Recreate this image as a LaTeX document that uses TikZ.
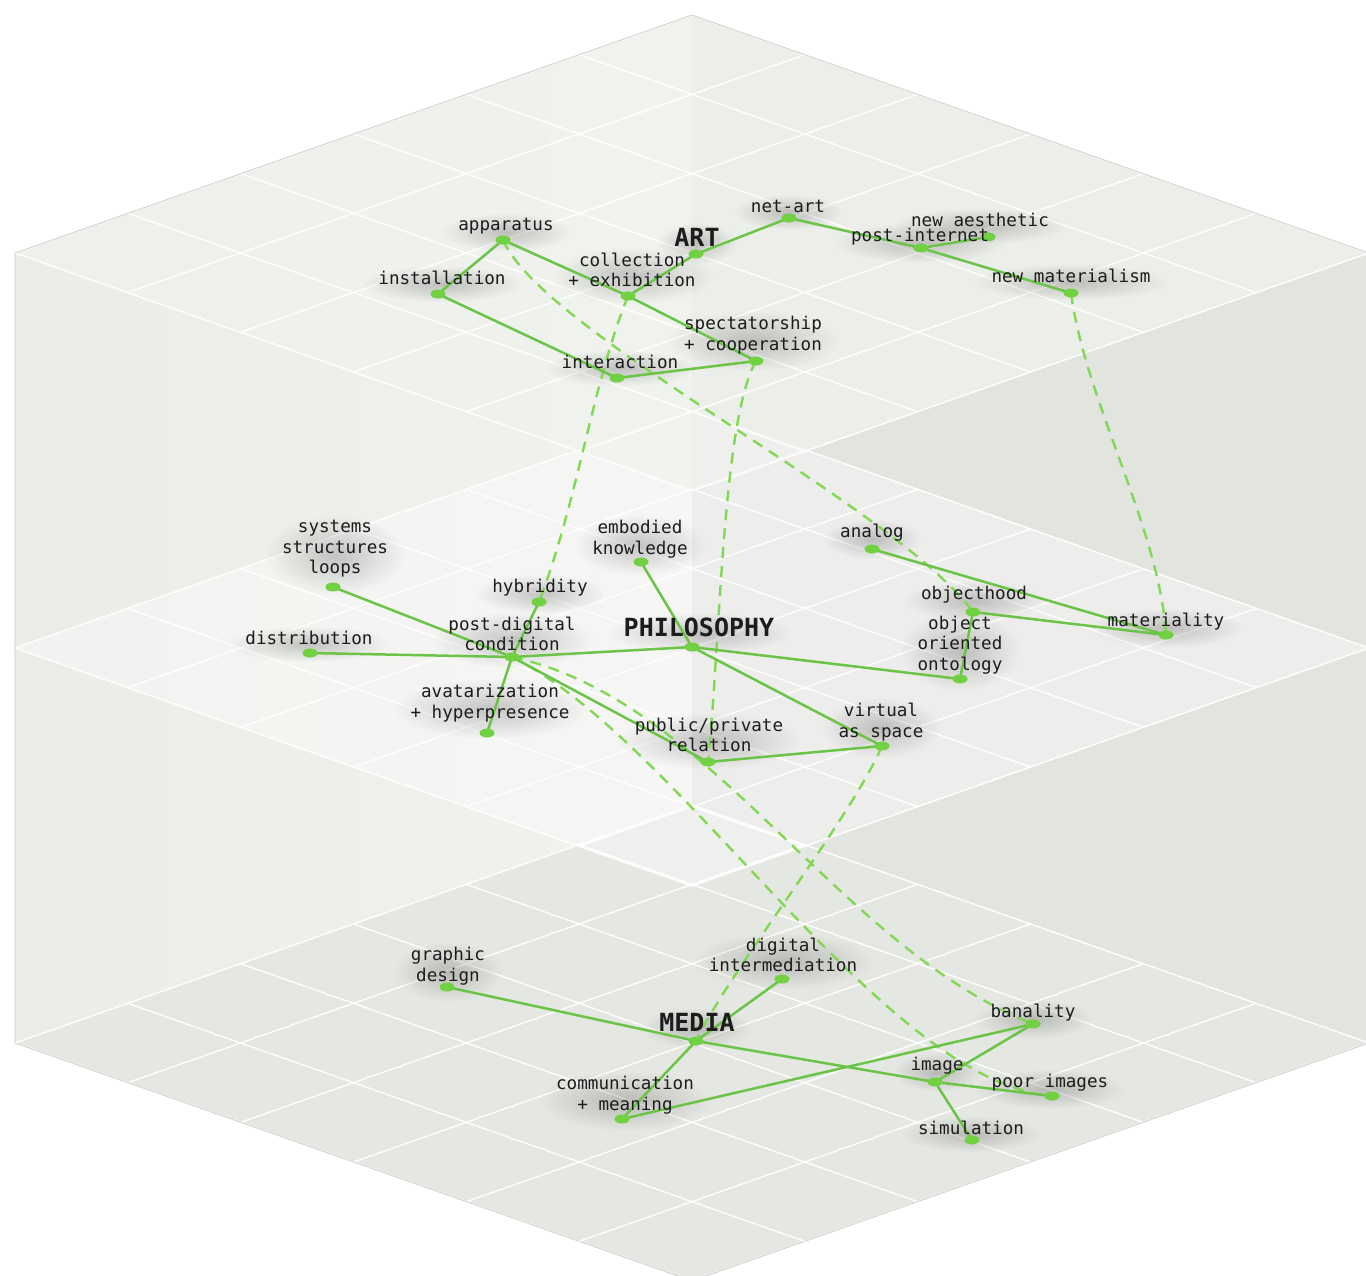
\documentclass[tikz,border=0pt]{standalone}
\usepackage{fontspec}
\setmonofont{DejaVu Sans Mono}
\usetikzlibrary{fadings,shapes.geometric}
\definecolor{lgreen}{HTML}{6BC447}
\definecolor{dotgreen}{HTML}{71D142}
\definecolor{dashg}{HTML}{82D855}
\definecolor{txt}{HTML}{1C1C1C}
\definecolor{lbgA}{HTML}{EAECE7}
\definecolor{lbgB}{HTML}{F1F3EF}
\definecolor{rbg}{HTML}{E2E5DF}
\definecolor{floorc}{HTML}{E5E8E2}
\definecolor{topc}{HTML}{F0F2EE}
\definecolor{edgec}{HTML}{C9CBC7}
\tikzfading[name=glowfade, inner color=transparent!0, outer color=transparent!100]
\pgfdeclarelayer{bglayer}
\pgfdeclarelayer{linklayer}
\pgfsetlayers{bglayer,linklayer,main}
\newcommand\isogrid[1]{%
  \foreach \k in {0,...,6}{%
    \draw[gridl] ({692+\k*112.833},{#1-238+\k*39.667}) -- ({692+\k*112.833-677},{#1+\k*39.667});
    \draw[gridl] ({692-\k*112.833},{#1-238+\k*39.667}) -- ({692-\k*112.833+677},{#1+\k*39.667});
  }}
\begin{document}
\begin{tikzpicture}[x=1pt,y=-1pt,
  gridl/.style={draw=white, line width=1.4pt, opacity=0.95},
  dot/.style={ellipse, fill=dotgreen, minimum width=15pt, minimum height=9pt, inner sep=0pt},
  lbl/.style={font=\fontsize{17.6}{20.5}\selectfont\ttfamily, text=txt, align=center, inner sep=1pt},
  hub/.style={font=\fontsize{25}{27}\selectfont\ttfamily\bfseries, text=txt, inner sep=1pt},
  link/.style={draw=lgreen, line width=2.5pt, line cap=round},
  dlink/.style={draw=dashg, line width=2.4pt, dash pattern=on 11pt off 8pt},
  glow/.style={fill=black!85, fill opacity=0.24, path fading=glowfade}]
\useasboundingbox (0,0) rectangle (1366,1276);
\clip (0,0) rectangle (1366,1276);

% ---------- nodes (dots) ----------
% ART plane
\node[dot] (art) at (696,254) {};
\node[dot] (netart) at (789,218) {};
\node[dot] (postint) at (921,248) {};
\node[dot] (newaes) at (988,237) {};
\node[dot] (newmat) at (1071,293) {};
\node[dot] (appar) at (503,240) {};
\node[dot] (install) at (438,294) {};
\node[dot] (collect) at (628,296) {};
\node[dot] (spect) at (756,361) {};
\node[dot] (interact) at (617,378) {};
% PHILOSOPHY plane
\node[dot] (phil) at (692,647) {};
\node[dot] (embod) at (641,562) {};
\node[dot] (systems) at (333,587) {};
\node[dot] (hybrid) at (539,602) {};
\node[dot] (postdig) at (512,657) {};
\node[dot] (distrib) at (310,653) {};
\node[dot] (avatar) at (487,733) {};
\node[dot] (pubpriv) at (708,762) {};
\node[dot] (virtual) at (882,746) {};
\node[dot] (ooo) at (960,679) {};
\node[dot] (objhood) at (973,612) {};
\node[dot] (analog) at (872,549) {};
\node[dot] (mater) at (1166,635) {};
% MEDIA plane
\node[dot] (media) at (696,1041) {};
\node[dot] (graphic) at (447,987) {};
\node[dot] (digint) at (782,979) {};
\node[dot] (comm) at (622,1119) {};
\node[dot] (banal) at (1033,1024) {};
\node[dot] (image) at (935,1082) {};
\node[dot] (poor) at (1052,1096) {};
\node[dot] (simul) at (972,1140) {};

% ---------- labels ----------
\node[hub] (artL) at (697,237) {ART};
\node[lbl] (netartL) at (788,206) {net-art};
\node[lbl] (newaesL) at (980,220) {new aesthetic};
\node[lbl] (postintL) at (920,237) {post-internet};
\node[lbl] (newmatL) at (1071,276) {new materialism};
\node[lbl] (apparL) at (506,226) {apparatus};
\node[lbl] (installL) at (442,278) {installation};
\node[lbl] (collectL) at (632,270) {collection\\+ exhibition};
\node[lbl] (spectL) at (753,335) {spectatorship\\+ cooperation};
\node[lbl] (interactL) at (620,362) {interaction};

\node[hub] (philL) at (699,627) {PHILOSOPHY};
\node[lbl] (systemsL) at (335,549) {systems\\structures\\loops};
\node[lbl] (embodL) at (640,539) {embodied\\knowledge};
\node[lbl] (hybridL) at (540,588) {hybridity};
\node[lbl] (postdigL) at (512,634) {post-digital\\condition};
\node[lbl] (distribL) at (309,638) {distribution};
\node[lbl] (avatarL) at (490,703) {avatarization\\+ hyperpresence};
\node[lbl] (pubprivL) at (709,735) {public/private\\relation};
\node[lbl] (virtualL) at (881,722) {virtual\\as space};
\node[lbl] (analogL) at (872,533) {analog};
\node[lbl] (objhoodL) at (974,595) {objecthood};
\node[lbl] (oooL) at (960,645) {object\\oriented\\ontology};
\node[lbl] (materL) at (1166,622) {materiality};

\node[hub] (mediaL) at (697,1022) {MEDIA};
\node[lbl] (graphicL) at (448,966) {graphic\\design};
\node[lbl] (digintL) at (783,955) {digital\\intermediation};
\node[lbl] (commL) at (625,1095) {communication\\+ meaning};
\node[lbl] (banalL) at (1033,1013) {banality};
\node[lbl] (imageL) at (937,1066) {image};
\node[lbl] (poorL) at (1050,1083) {poor images};
\node[lbl] (simulL) at (971,1128) {simulation};

% ---------- background: cube, planes, grids, label shadows ----------
\begin{pgfonlayer}{bglayer}
\fill[white] (0,0) rectangle (1366,1276);
\shade[left color=lbgA, right color=lbgB] (692,15) -- (15,253) -- (15,1043) -- (692,1281) -- cycle;
\fill[rbg] (692,15) -- (1369,253) -- (1369,1043) -- (692,1281) -- cycle;
% MEDIA plane
\fill[floorc] (692,805) -- (1369,1043) -- (692,1281) -- (15,1043) -- cycle;
\isogrid{1043}
% PHILOSOPHY plane
\fill[white, fill opacity=0.38] (692,410) -- (1369,648) -- (692,886) -- (15,648) -- cycle;
\isogrid{648}
% ART plane
\fill[topc, fill opacity=0.72] (692,15) -- (1369,253) -- (692,491) -- (15,253) -- cycle;
\isogrid{253}
\draw[edgec, line width=0.7pt] (692,15) -- (1369,253) -- (1369,1043) -- (692,1281) -- (15,1043) -- (15,253) -- cycle;
% soft shadows under the labels
\foreach \n in {artL,netartL,newaesL,postintL,newmatL,apparL,installL,collectL,spectL,interactL,
  philL,systemsL,embodL,hybridL,postdigL,distribL,avatarL,pubprivL,virtualL,analogL,objhoodL,oooL,materL,
  mediaL,graphicL,digintL,commL,banalL,imageL,poorL,simulL}{
  \fill[glow] ([shift={(-16,16)}]\n.south west) rectangle ([shift={(16,-4)}]\n.north east);
}
\end{pgfonlayer}

% ---------- connectors ----------
\begin{pgfonlayer}{linklayer}
% between planes (dashed)
\draw[dlink] (appar.center) .. controls (545,335) and (895,505) .. (objhood.center);
\draw[dlink] (collect.center) .. controls (592,385) and (578,500) .. (hybrid.center);
\draw[dlink] (spect.center) .. controls (722,420) and (720,650) .. (pubpriv.center);
\draw[dlink] (newmat.center) .. controls (1085,400) and (1160,530) .. (mater.center);
\draw[dlink] (postdig.center) .. controls (680,740) and (880,1080) .. (poor.center);
\draw[dlink] (postdig.center) .. controls (712,700) and (833,944) .. (banal.center);
\draw[dlink] (virtual.center) .. controls (850,820) and (730,970) .. (media.center);
% ART
\draw[link] (art.center) -- (netart.center);
\draw[link] (netart.center) -- (postint.center);
\draw[link] (postint.center) -- (newaes.center);
\draw[link] (postint.center) -- (newmat.center);
\draw[link] (art.center) -- (collect.center);
\draw[link] (appar.center) -- (install.center);
\draw[link] (appar.center) -- (collect.center);
\draw[link] (collect.center) -- (spect.center);
\draw[link] (install.center) -- (interact.center);
\draw[link] (interact.center) -- (spect.center);
% PHILOSOPHY
\draw[link] (systems.center) -- (postdig.center);
\draw[link] (distrib.center) -- (postdig.center);
\draw[link] (postdig.center) -- (phil.center);
\draw[link] (hybrid.center) -- (postdig.center);
\draw[link] (postdig.center) -- (avatar.center);
\draw[link] (postdig.center) -- (pubpriv.center);
\draw[link] (phil.center) -- (embod.center);
\draw[link] (phil.center) -- (virtual.center);
\draw[link] (phil.center) -- (ooo.center);
\draw[link] (pubpriv.center) -- (virtual.center);
\draw[link] (ooo.center) -- (objhood.center);
\draw[link] (objhood.center) -- (mater.center);
\draw[link] (analog.center) -- (mater.center);
% MEDIA
\draw[link] (graphic.center) -- (media.center);
\draw[link] (media.center) -- (digint.center);
\draw[link] (media.center) -- (comm.center);
\draw[link] (media.center) -- (image.center);
\draw[link] (comm.center) -- (banal.center);
\draw[link] (banal.center) -- (image.center);
\draw[link] (image.center) -- (poor.center);
\draw[link] (image.center) -- (simul.center);
\end{pgfonlayer}
\end{tikzpicture}
\end{document}
